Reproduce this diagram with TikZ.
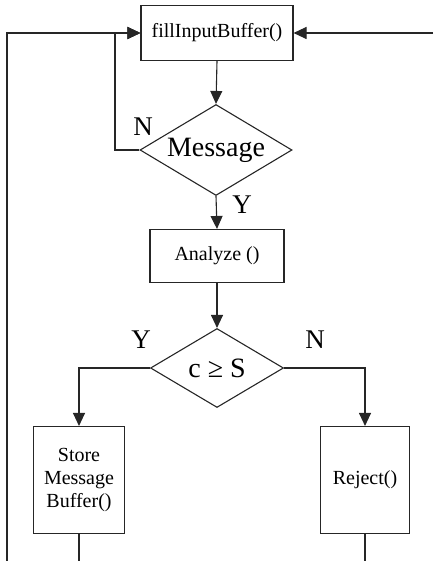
\documentclass[tikz,border=0pt]{standalone}
\usepackage{fontspec}
\setmainfont{Liberation Serif}
\usetikzlibrary{arrows.meta,shapes.geometric}

\tikzset{
  flow/.style={line width=1.1pt, draw=black!85},
  arr/.style={flow, -{Triangle[length=13pt,width=12pt]}},
  procbox/.style={draw=black!85, line width=1.1pt, rectangle, inner sep=0pt,
    align=center, font=\fontsize{20}{23}\selectfont},
  decision/.style={draw=black!85, line width=1.1pt, diamond, aspect=1.68,
    inner sep=0pt, font=\fontsize{28}{32}\selectfont},
  tag/.style={font=\fontsize{27}{30}\selectfont, inner sep=0pt}
}

\begin{document}
\begin{tikzpicture}[x=1pt,y=-1pt]
  \useasboundingbox (0,0) rectangle (433,561);

  % process steps and decisions
  \node[procbox, minimum width=152pt, minimum height=55pt] (fill) at (217,33) {fillInputBuffer()};
  \node[decision, minimum width=152pt, minimum height=91pt] (msg) at (216,150) {Message};
  \node[procbox, minimum width=134pt, minimum height=53pt] (ana) at (217,256) {Analyze ()};
  \node[decision, minimum width=133pt, minimum height=79pt] (cmp) at (217,368) {c ≥ S};
  \node[procbox, minimum width=91pt, minimum height=107pt] (store) at (79,480) {Store\\Message\\Buffer()};
  \node[procbox, minimum width=89pt, minimum height=107pt] (rej) at (365,480) {Reject()};

  % branch labels
  \node[tag] (nmsg) at (143,127) {N};
  \node[tag] (ymsg) at (242,205) {Y};
  \node[tag] (ycmp) at (141,340) {Y};
  \node[tag] (ncmp) at (315,340) {N};

  % free ends of the loop-back lines
  \coordinate (nloop) at (115,33);
  \coordinate (lbot) at (7,561);
  \coordinate (rin) at (433,33);
  \coordinate (pagebot) at (0,561);

  % main flow
  \draw[arr] (fill.south) -- (msg.north);
  \draw[arr] (msg.south) -- (ana.north);
  \draw[arr] (ana.south) -- (cmp.north);
  \draw[arr] (cmp.west) -| (store.north);
  \draw[arr] (cmp.east) -| (rej.north);

  % loops back to the input buffer
  \draw[arr] (msg.west) -| (nloop) -- (fill.west);
  \draw[arr] (lbot) |- (fill.west);
  \draw[arr] (rin) -- (fill.east);

  % outgoing lines at the bottom
  \draw[flow] (store.south) -- (store.south |- pagebot);
  \draw[flow] (rej.south) -- (rej.south |- pagebot);
\end{tikzpicture}
\end{document}
